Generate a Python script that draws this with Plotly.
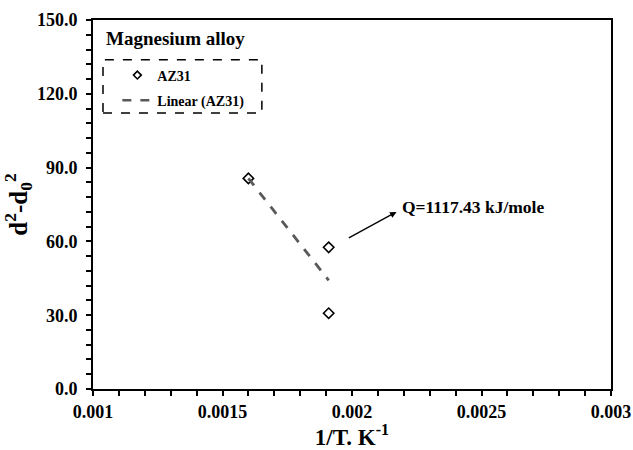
import numpy as np
import plotly.graph_objects as go

inv_T = [0.0016, 0.00191, 0.00191]
d2_d02 = [85.6, 57.6, 30.8]
series_name = "AZ31"
trend_name = "Linear (AZ31)"
x_tickvals = [0.001, 0.0015, 0.002, 0.0025, 0.003]
x_ticktext = ["0.001", "0.0015", "0.002", "0.0025", "0.003"]
y_tickvals = [0, 30, 60, 90, 120, 150]
annotation_text = "Q=1117.43 kJ/mole"
title_text = "Magnesium alloy"

slope, intercept = np.polyfit(inv_T, d2_d02, 1)
trend_x = [min(inv_T), max(inv_T)]
trend_y = [slope * v + intercept for v in trend_x]

FONT = "Liberation Serif, Times New Roman, serif"

fig = go.Figure()
fig.add_trace(go.Scatter(
    x=inv_T, y=d2_d02, mode="markers", name=series_name, showlegend=False,
    marker=dict(symbol="diamond-open", size=8, color="black", line=dict(width=1.6, color="black")),
))
fig.add_trace(go.Scatter(
    x=trend_x, y=trend_y, mode="lines", name=trend_name, showlegend=False,
    line=dict(color="#595959", width=2.8, dash="dash"),
))
# legend entries (smaller symbols, as in the reference legend)
fig.add_trace(go.Scatter(
    x=[None], y=[None], mode="markers", name=series_name, legendgroup="a",
    marker=dict(symbol="diamond-open", size=6, color="black", line=dict(width=1.6, color="black")),
))
fig.add_trace(go.Scatter(
    x=[None], y=[None], mode="lines", name=trend_name, legendgroup="b",
    line=dict(color="#595959", width=2.5, dash="dash"),
))

fig.update_layout(
    width=633, height=450,
    margin=dict(l=93, r=22, t=20, b=61, autoexpand=False),
    paper_bgcolor="white", plot_bgcolor="white",
    font=dict(family=FONT, color="black"),
    showlegend=True,
    legend=dict(x=0.047, y=0.893, xanchor="left", yanchor="top",
                bgcolor="rgba(0,0,0,0)", borderwidth=0,
                font=dict(family=FONT, size=14, color="black", weight="bold"),
                itemwidth=30, tracegroupgap=4, traceorder="grouped"),
    xaxis=dict(
        range=[0.001, 0.003], tickvals=x_tickvals, ticktext=x_ticktext, automargin=False,
        showgrid=False, zeroline=False, showline=True, linecolor="black", linewidth=2,
        mirror=True, ticks="outside", ticklen=5, tickwidth=1.5, tickcolor="black",
        ticklabelstandoff=0,
        minor=dict(dtick=0.0001, ticks="outside", ticklen=5, tickwidth=1.5, tickcolor="black", showgrid=False),
        tickfont=dict(family=FONT, size=18, color="black", weight="bold"),
        title=dict(text="1/T. K<sup>-1</sup>", font=dict(family=FONT, size=23, color="black", weight="bold")),
    ),
    yaxis=dict(
        range=[0, 150], tickvals=y_tickvals, tickformat=".1f", automargin=False,
        showgrid=False, zeroline=False, showline=True, linecolor="black", linewidth=2,
        mirror=True, ticks="outside", ticklen=5, tickwidth=1.5, tickcolor="black",
        ticklabelstandoff=5,
        minor=dict(dtick=6, ticks="outside", ticklen=5, tickwidth=1.5, tickcolor="black", showgrid=False),
        tickfont=dict(family=FONT, size=18, color="black", weight="bold"),
        title=dict(text="d<sup>2</sup>-d<sub>0</sub><sup>2</sup>", font=dict(family=FONT, size=25, color="black", weight="bold")),
    ),
)

# dashed legend box
fig.add_shape(type="rect", xref="paper", yref="paper",
              x0=0.0193, x1=0.326, y0=0.748, y1=0.892,
              line=dict(color="black", width=1.5, dash="dash"))

fig.add_annotation(xref="paper", yref="paper", x=0.022, y=0.949, xanchor="left", yanchor="middle",
                   text=title_text, showarrow=False,
                   font=dict(family=FONT, size=19, color="black", weight="bold"))

fig.add_annotation(x=0.002185, y=74.0, xref="x", yref="y", xanchor="left", yanchor="middle",
                   text=annotation_text, showarrow=False,
                   font=dict(family=FONT, size=17.5, color="black", weight="bold"))
fig.add_annotation(x=0.002172, y=72.0, ax=0.001982, ay=61.1, xref="x", yref="y", axref="x", ayref="y",
                   text="", showarrow=True, arrowhead=2, arrowsize=1, arrowwidth=1.3, arrowcolor="black",
                   standoff=0)

fig.write_html("out.html", config={"displayModeBar": False},
               post_script="document.body.style.margin='0';")
